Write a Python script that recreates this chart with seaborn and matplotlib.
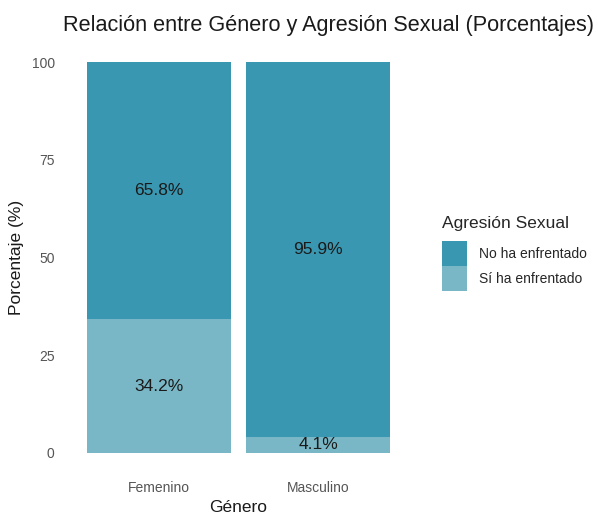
import matplotlib
matplotlib.use("Agg")
import matplotlib.pyplot as plt
import seaborn as sns
from matplotlib.patches import Patch

# datos
generos = ["Femenino", "Masculino"]
pct_si = [34.2, 4.1]
pct_no = [65.8, 95.9]
categorias = ["No ha enfrentado", "Sí ha enfrentado"]

color_no = "#3A97B1"
color_si = "#7AB7C6"

sns.set_style("white")
plt.rcParams["font.family"] = ["Liberation Sans", "DejaVu Sans"]

fig = plt.figure(figsize=(5.98, 5.16), dpi=100)
ax = fig.add_axes([63 / 598, 1 - 472.5 / 516, 351 / 598, 430 / 516])

totales = [s + n for s, n in zip(pct_si, pct_no)]
sns.barplot(x=generos, y=totales, color=color_no, saturation=1, width=0.9,
            linewidth=0, ax=ax)
sns.barplot(x=generos, y=pct_si, color=color_si, saturation=1, width=0.9,
            linewidth=0, ax=ax)

# etiquetas en el centro de cada segmento
for i in range(len(generos)):
    ax.text(i, pct_si[i] / 2, f"{pct_si[i]:.1f}%", ha="center", va="center",
            fontsize=12.5, color="#1a1a1a")
    ax.text(i, pct_si[i] + pct_no[i] / 2, f"{pct_no[i]:.1f}%", ha="center", va="center",
            fontsize=12.5, color="#1a1a1a")

ax.set_xlim(-0.6, 1.6)
ax.set_ylim(-5, 105)
ax.set_yticks([0, 25, 50, 75, 100])
ax.tick_params(axis="both", length=0, labelsize=10, labelcolor="#555555", pad=6)
sns.despine(ax=ax, left=True, bottom=True)

ax.set_xlabel("Género", fontsize=12.5, color="#1a1a1a")
ax.xaxis.set_label_coords(0.5, -0.063)
ax.set_ylabel("")
fig.text(17 / 598, 1 - 257.5 / 516, "Porcentaje (%)", rotation=90, ha="center",
         va="center", fontsize=12.5, color="#1a1a1a")

fig.text(63 / 598, 1 - 26 / 516, "Relación entre Género y Agresión Sexual (Porcentajes)",
         ha="left", va="center", fontsize=15.6, color="#1a1a1a")

handles = [Patch(facecolor=color_no, edgecolor="none"),
           Patch(facecolor=color_si, edgecolor="none")]
leg = fig.legend(handles, categorias, title="Agresión Sexual", loc="upper left",
                 bbox_to_anchor=(442 / 598, 1 - 216 / 516), frameon=False,
                 fontsize=10, title_fontsize=12.5, handlelength=1.8, handleheight=2.4,
                 handletextpad=0.9, labelspacing=0.0, borderpad=0, borderaxespad=0,
                 alignment="left")
leg._legend_box.sep = 7

fig.savefig("out.png", dpi=100)
